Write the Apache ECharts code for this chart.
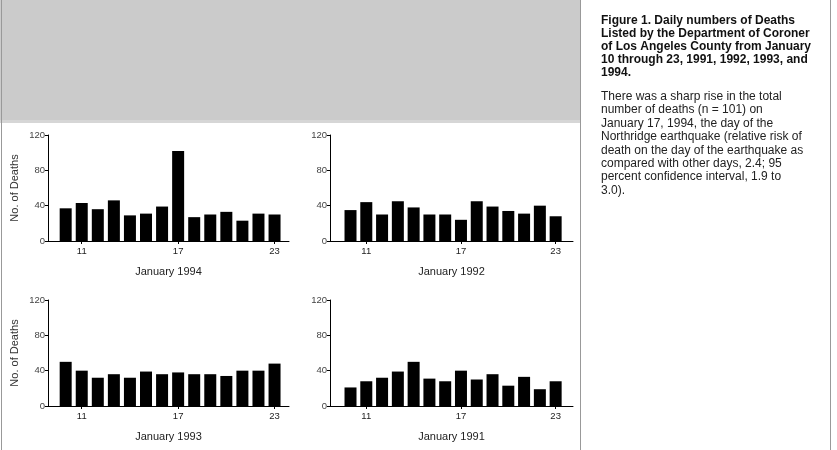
<!DOCTYPE html>
<html><head><meta charset="utf-8">
<script src="https://cdn.jsdelivr.net/npm/echarts@6/dist/echarts.min.js"></script>
<style>html,body{margin:0;padding:0;background:#fff}#c{width:837px;height:450px}</style>
</head><body><div id="c"></div>
<script>
// Days January 10..23
const days = [10,11,12,13,14,15,16,17,18,19,20,21,22,23];
const deaths1994 = [37,43,36,46,29,31,39,102,27,30,33,23,31,30];
const deaths1992 = [35,44,30,45,38,30,30,24,45,39,34,31,40,28];
const deaths1993 = [50,40,32,36,32,39,36,38,36,36,34,40,40,48];
const deaths1991 = [21,28,32,39,50,31,28,40,30,36,23,33,19,28];
const xTicks = [11,17,23];
const yTicks = [0,40,80,120];
const panelNames = ['January 1994','January 1992','January 1993','January 1991'];
const yAxisTitle = 'No. of Deaths';
const captionTitle = 'Figure 1. Daily numbers of Deaths\nListed by the Department of Coroner\nof Los Angeles County from January\n10 through 23, 1991, 1992, 1993, and\n1994.';
const captionBody = 'There was a sharp rise in the total\nnumber of deaths (n = 101) on\nJanuary 17, 1994, the day of the\nNorthridge earthquake (relative risk of\ndeath on the day of the earthquake as\ncompared with other days, 2.4; 95\npercent confidence interval, 1.9 to\n3.0).';

const seriesData = [deaths1994, deaths1992, deaths1993, deaths1991];
const FONT = '"Liberation Sans", Arial, sans-serif';

const grids = [
  {left:48, top:135, width:241, height:106},
  {left:330, top:135, width:243, height:106},
  {left:48, top:300, width:241, height:106},
  {left:330, top:300, width:243, height:106}
];
const xRanges = [[8.9,23.9],[8.7,24.1],[8.9,23.9],[8.7,24.1]];

const xAxes = grids.map((g,i)=>({
  type:'value', gridIndex:i, min:xRanges[i][0], max:xRanges[i][1],
  name:panelNames[i], nameLocation:'middle', nameGap:25,
  nameTextStyle:{fontFamily:FONT, fontSize:11, color:'#222'},
  axisLine:{lineStyle:{color:'#000', width:1}},
  axisTick:{show:true, length:3, customValues:xTicks, lineStyle:{color:'#000'}},
  axisLabel:{customValues:xTicks, fontFamily:FONT, fontSize:9.5, color:'#222', margin:5},
  splitLine:{show:false}
}));
const yAxes = grids.map((g,i)=>({
  type:'value', gridIndex:i, min:0, max:120, interval:40,
  name:(i%2===0)?yAxisTitle:'', nameLocation:'middle', nameGap:28, nameRotate:90,
  nameTextStyle:{fontFamily:FONT, fontSize:11, color:'#333'},
  axisLine:{show:true, lineStyle:{color:'#000', width:1}},
  axisTick:{show:true, length:3, lineStyle:{color:'#000'}},
  axisLabel:{fontFamily:FONT, fontSize:9.5, color:'#444', margin:3},
  splitLine:{show:false}
}));
const series = seriesData.map((arr,i)=>({
  type:'bar', xAxisIndex:i, yAxisIndex:i, barWidth:12,
  data: days.map((d,k)=>[d, arr[k]]),
  itemStyle:{color:'#000'}, silent:true
}));

const chart = echarts.init(document.getElementById('c'), null, {renderer:'canvas'});
chart.setOption({
  animation:false,
  grid:grids,
  xAxis:xAxes, yAxis:yAxes, series:series,
  graphic:[
    {type:'rect', shape:{x:0,y:0,width:580,height:123}, style:{fill:'#cbcbcb'}, z:-10},
    {type:'rect', shape:{x:0,y:120,width:580,height:3}, style:{fill:'#d6d6d6'}, z:-9},
    {type:'line', shape:{x1:1.5,y1:0,x2:1.5,y2:450}, style:{stroke:'#999', lineWidth:1}, z:-8},
    {type:'line', shape:{x1:580.5,y1:0,x2:580.5,y2:450}, style:{stroke:'#999', lineWidth:1}, z:-8},
    {type:'line', shape:{x1:830.5,y1:0,x2:830.5,y2:450}, style:{stroke:'#999', lineWidth:1}, z:-8},
    {type:'text', left:601, top:14, style:{text:captionTitle, font:'bold 12px '+FONT, lineHeight:13, fill:'#111'}},
    {type:'text', left:601, top:90, style:{text:captionBody, font:'12px '+FONT, lineHeight:13.4, fill:'#222'}}
  ]
});
</script></body></html>
